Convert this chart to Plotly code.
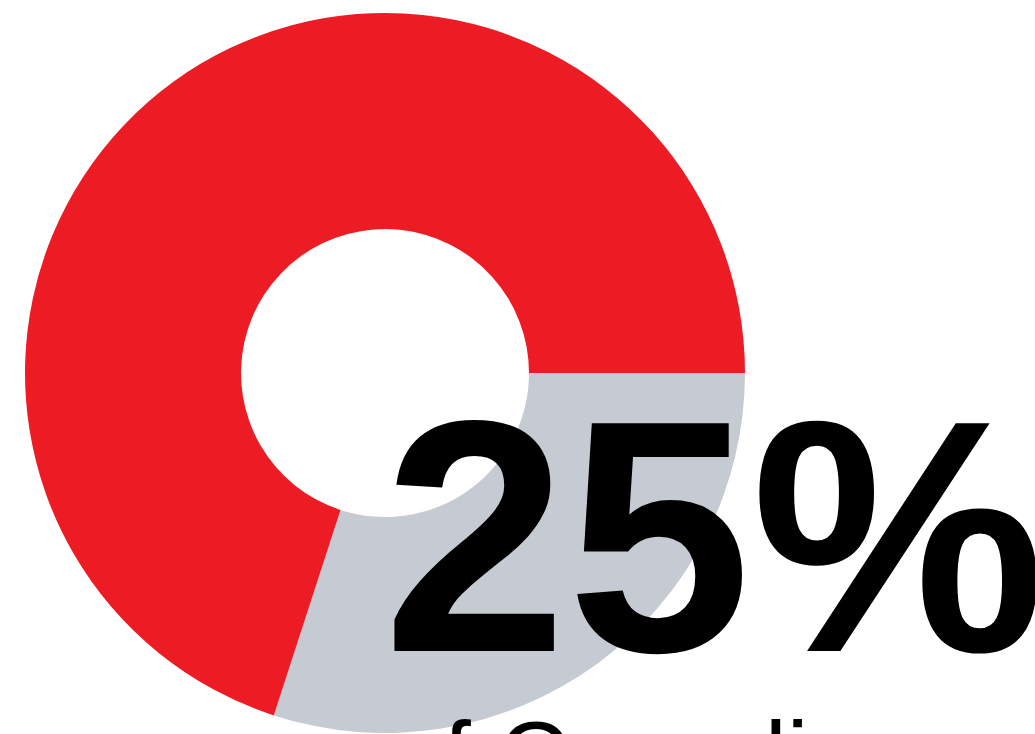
import plotly.graph_objects as go

# Donut shares: highlighted share first, remainder second
labels = ["Share", "Other"]
values = [30, 70]
colors = ["#C6CAD3", "#ED1C24"]

headline = "25%"
caption = "of Canadians"

W, H = 1035, 734

fig = go.Figure(
    go.Pie(
        labels=labels,
        values=values,
        hole=0.4,
        sort=False,
        direction="clockwise",
        rotation=90,
        marker=dict(colors=colors, line=dict(width=0)),
        textinfo="none",
        hoverinfo="skip",
        showlegend=False,
        domain=dict(x=[25 / W, 745 / W], y=[1 / H, 721 / H]),
    )
)

fig.add_annotation(
    text=headline,
    xref="paper", yref="paper",
    x=381 / W, y=1 - 536 / H,
    xanchor="left", yanchor="middle",
    showarrow=False,
    font=dict(family="Liberation Sans, Arial, Helvetica, sans-serif",
              size=331, color="#000000", weight="bold"),
)

fig.add_annotation(
    text=caption,
    xref="paper", yref="paper",
    x=387 / W, y=1 - 699 / H,
    xanchor="left", yanchor="top",
    showarrow=False,
    font=dict(family="Liberation Sans, Arial, Helvetica, sans-serif",
              size=98, color="#000000"),
)

fig.update_layout(
    width=W, height=H,
    margin=dict(l=0, r=0, t=0, b=0),
    paper_bgcolor="#FFFFFF",
    plot_bgcolor="#FFFFFF",
)

fig.write_html("out.html")
